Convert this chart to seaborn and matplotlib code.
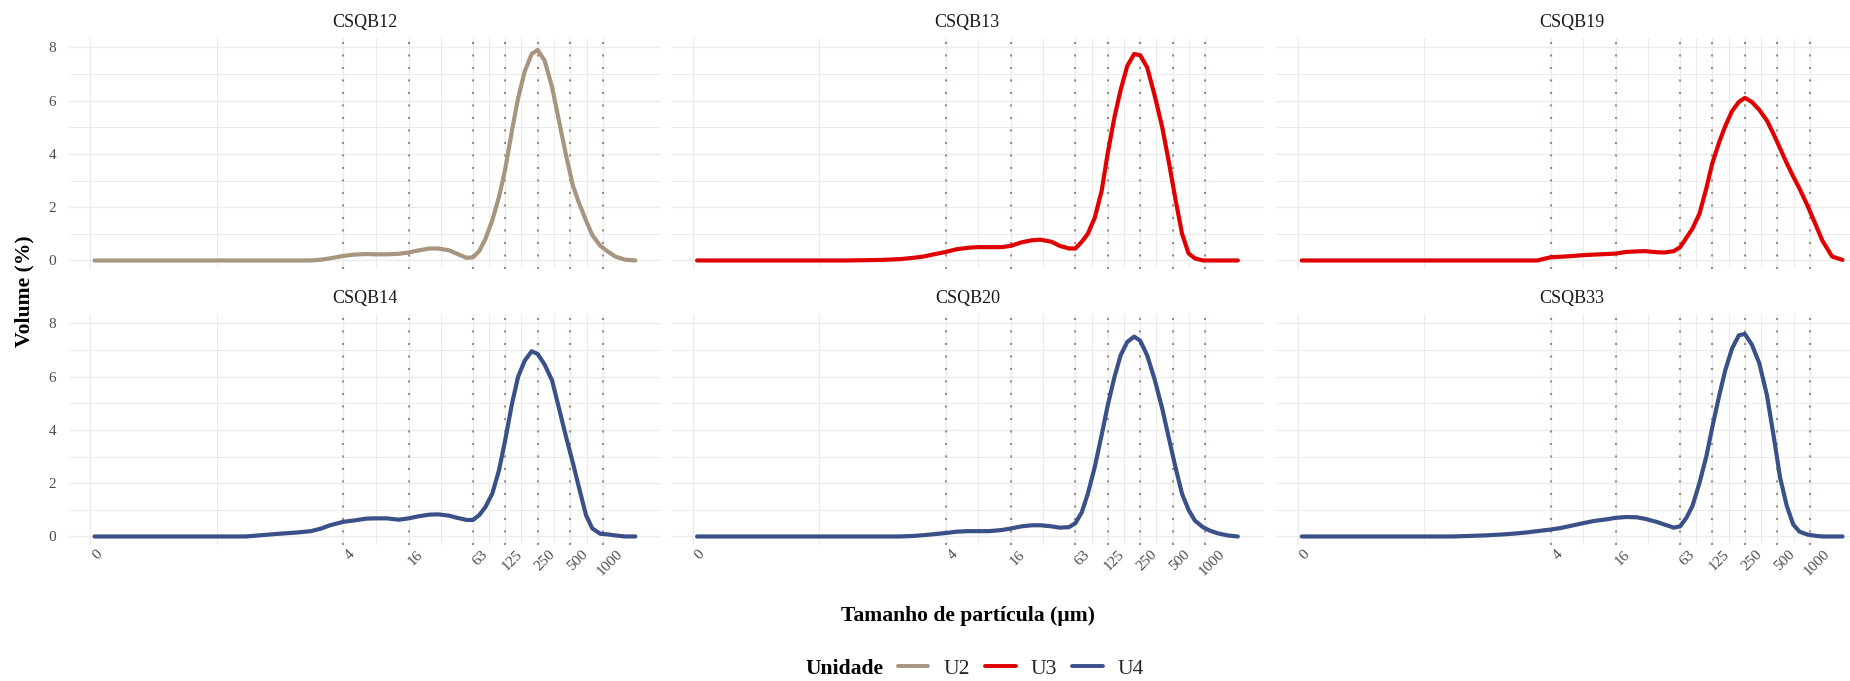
import pandas as pd
import matplotlib
matplotlib.use("Agg")
import matplotlib.pyplot as plt
import matplotlib.transforms as mtransforms
from matplotlib.lines import Line2D
from matplotlib.ticker import FixedLocator, NullFormatter
import seaborn as sns

# Setup
sns.set_theme(style="white")
plt.rcParams["font.family"] = ["Liberation Serif", "DejaVu Serif"]

# --------- DATA ---------

sizes = [0.02, 0.1, 0.5, 1, 1.5, 2, 2.5, 3, 4, 5, 6.5, 8, 10, 13, 16, 20, 25, 30,
         38, 45, 55, 63, 72, 82, 95, 110, 125, 145, 165, 190, 220, 250, 290, 340,
         400, 460, 530, 610, 700, 800, 950, 1100, 1300, 1600, 2000]

csqb12 = [0, 0, 0, 0, 0, 0, 0.03, 0.08, 0.17, 0.22, 0.24, 0.23, 0.23, 0.25, 0.30,
          0.38, 0.45, 0.45, 0.38, 0.25, 0.10, 0.12, 0.35, 0.8, 1.5, 2.4, 3.4, 4.9,
          6.1, 7.1, 7.75, 7.9, 7.5, 6.5, 5.1, 3.9, 2.8, 2.1, 1.5, 0.95, 0.55, 0.35,
          0.15, 0.03, 0]
csqb13 = [0, 0, 0, 0.02, 0.05, 0.1, 0.15, 0.22, 0.32, 0.42, 0.48, 0.5, 0.5, 0.5,
          0.55, 0.68, 0.76, 0.78, 0.7, 0.55, 0.45, 0.45, 0.7, 1.0, 1.6, 2.6, 4.0,
          5.4, 6.4, 7.3, 7.75, 7.7, 7.25, 6.2, 5.0, 3.7, 2.3, 1.0, 0.27, 0.08, 0,
          0, 0, 0, 0]
csqb19 = [0, 0, 0, 0, 0, 0, 0, 0, 0.12, 0.14, 0.17, 0.2, 0.22, 0.24, 0.26, 0.32,
          0.34, 0.35, 0.31, 0.3, 0.35, 0.5, 0.85, 1.2, 1.75, 2.7, 3.65, 4.45, 5.05,
          5.6, 5.95, 6.1, 5.95, 5.65, 5.25, 4.75, 4.2, 3.65, 3.15, 2.7, 2.05, 1.45,
          0.75, 0.15, 0.02]
csqb14 = [0, 0, 0, 0.1, 0.15, 0.2, 0.3, 0.42, 0.55, 0.6, 0.67, 0.68, 0.68, 0.63,
          0.68, 0.76, 0.82, 0.83, 0.78, 0.7, 0.62, 0.62, 0.8, 1.1, 1.6, 2.5, 3.6,
          5.0, 6.0, 6.6, 6.95, 6.85, 6.45, 5.85, 4.7, 3.7, 2.75, 1.75, 0.8, 0.3,
          0.1, 0.08, 0.04, 0, 0]
csqb20 = [0, 0, 0, 0, 0, 0.02, 0.05, 0.08, 0.13, 0.18, 0.2, 0.2, 0.2, 0.24, 0.3,
          0.38, 0.42, 0.42, 0.38, 0.33, 0.35, 0.5, 0.9, 1.6, 2.6, 3.8, 4.9, 6.0,
          6.8, 7.3, 7.5, 7.35, 6.8, 5.9, 4.8, 3.7, 2.6, 1.6, 1.0, 0.6, 0.35, 0.22,
          0.12, 0.04, 0]
csqb33 = [0, 0, 0, 0.04, 0.08, 0.12, 0.16, 0.2, 0.26, 0.32, 0.42, 0.5, 0.58, 0.64,
          0.7, 0.73, 0.72, 0.66, 0.55, 0.45, 0.33, 0.38, 0.7, 1.15, 2.0, 3.0, 4.1,
          5.3, 6.25, 7.05, 7.55, 7.6, 7.2, 6.5, 5.3, 3.8, 2.2, 1.15, 0.45, 0.18,
          0.07, 0.03, 0, 0, 0]

samples = ["CSQB12", "CSQB13", "CSQB19", "CSQB14", "CSQB20", "CSQB33"]
sample_units = ["U2", "U3", "U3", "U4", "U4", "U4"]
sample_values = [csqb12, csqb13, csqb19, csqb14, csqb20, csqb33]

units = ["U2", "U3", "U4"]
unit_colors = ["#A8957F", "#E00000", "#3A5088"]

x_breaks = [0.0183, 4, 16, 63, 125, 250, 500, 1000]
x_labels = ["0", "4", "16", "63", "125", "250", "500", "1000"]
class_limits = [4, 16, 63, 125, 250, 500, 1000]

frames = []
for name, unit, vals in zip(samples, sample_units, sample_values):
    frames.append(pd.DataFrame({"Amostra": name, "Unidade": unit,
                                "Tamanho": sizes, "Volume": vals}))
df = pd.concat(frames, ignore_index=True)
palette = dict(zip(units, unit_colors))

# --------- FIGURE ---------

W, H = 1850, 681
fig = plt.figure(figsize=(W / 100, H / 100), dpi=100)

col_left = [68.5, 671.0, 1275.7]
panel_w = 592.5
row_top = [38.5, 314.5]
panel_h = 230.5

x_minor = [(x_breaks[i] * x_breaks[i + 1]) ** 0.5 for i in range(len(x_breaks) - 1)]
grid_col = "#EBEBEB"
offset = mtransforms.ScaledTranslation(7 / 100, 0, fig.dpi_scale_trans)

for i, name in enumerate(samples):
    r, c = divmod(i, 3)
    ax = fig.add_axes([col_left[c] / W, 1 - (row_top[r] + panel_h) / H,
                       panel_w / W, panel_h / H])
    for x in class_limits:
        ax.axvline(x, color="#9E8C7C", lw=1.5, ls=(0, (1, 5)), zorder=1)
    sub = df[df["Amostra"] == name]
    sns.lineplot(data=sub, x="Tamanho", y="Volume", hue="Unidade", palette=palette,
                 lw=3.0, legend=False, ax=ax, zorder=3)
    ax.set_xscale("log")
    ax.set_xlim(0.01148, 3454)
    ax.set_ylim(-0.32, 8.33)
    ax.xaxis.set_major_locator(FixedLocator(x_breaks))
    ax.xaxis.set_minor_locator(FixedLocator(x_minor))
    ax.xaxis.set_minor_formatter(NullFormatter())
    ax.set_yticks([0, 2, 4, 6, 8])
    ax.yaxis.set_minor_locator(FixedLocator([1, 3, 5, 7]))
    ax.grid(which="major", color=grid_col, lw=1.0, zorder=0)
    ax.grid(which="minor", color=grid_col, lw=0.7, zorder=0)
    ax.set_axisbelow(True)
    for s in ax.spines.values():
        s.set_visible(False)
    ax.tick_params(which="both", length=0, labelsize=11, labelcolor="#4D4D4D")
    ax.tick_params(axis="y", pad=9)
    ax.tick_params(axis="x", pad=2)
    if r == 1:
        ax.set_xticklabels(x_labels, rotation=45, ha="center", va="top")
        for lab in ax.get_xticklabels():
            lab.set_transform(lab.get_transform() + offset)
    else:
        ax.set_xticklabels([])
    if c != 0:
        ax.set_yticklabels([])
    ax.set_xlabel("")
    ax.set_ylabel("")
    ax.set_title(name, fontsize=13, color="#1A1A1A", pad=8.5)

# Axis titles
fig.text(24 / W, 1 - 291.5 / H, "Volume (%)", rotation=90, ha="center", va="center",
         fontsize=15.6, fontweight="bold", color="black")
fig.text(968 / W, 1 - 616 / H, "Tamanho de partícula (µm)", ha="center", va="center",
         fontsize=15.6, fontweight="bold", color="black")

# Legend
fig.text(805 / W, 1 - 669 / H, "Unidade", ha="left", va="center",
         fontsize=15.6, fontweight="bold", color="black")
handles = [Line2D([0], [0], color=col, lw=2.8) for col in unit_colors]
fig.legend(handles, units, loc="center left", bbox_to_anchor=(898 / W, 1 - 669 / H),
           ncol=3, frameon=False, fontsize=15.6, handlelength=1.4, handletextpad=0.7,
           columnspacing=0.7, borderpad=0, borderaxespad=0)

fig.savefig("out.png", dpi=100)
plt.close(fig)
